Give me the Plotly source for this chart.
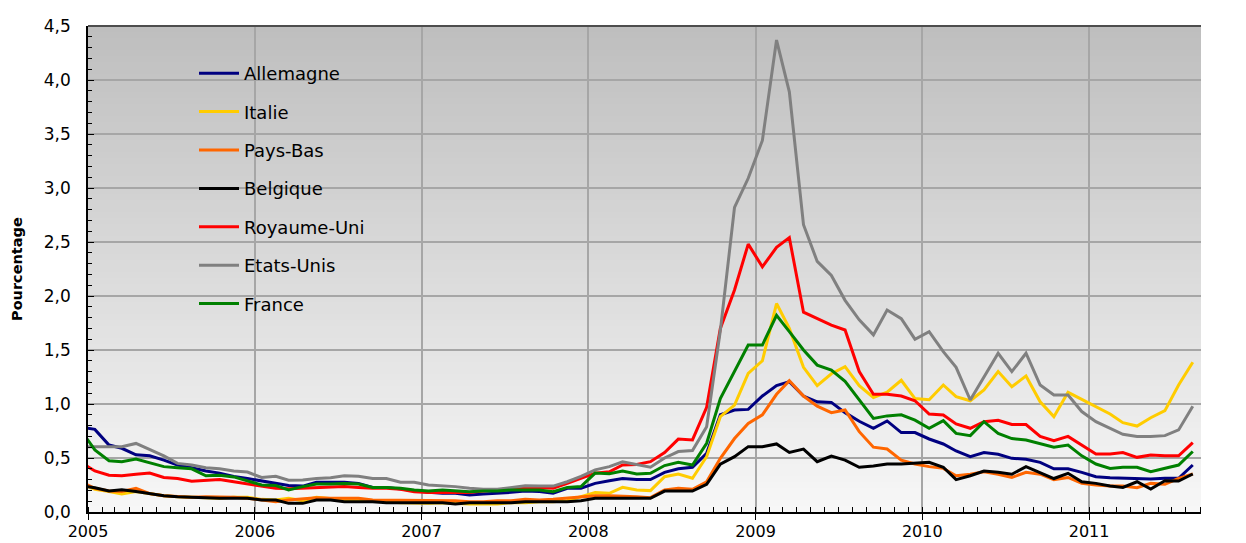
import plotly.graph_objects as go

# ---------------- data (monthly, Dec 2004 .. Aug 2011) ----------------
months = [f"{2004 + (11 + k) // 12}-{(11 + k) % 12 + 1:02d}-16" for k in range(81)]

allemagne = [0.785, 0.765, 0.62, 0.59, 0.53, 0.52, 0.48, 0.435, 0.41, 0.38, 0.36, 0.33, 0.31,
             0.29, 0.27, 0.245, 0.24, 0.275, 0.275, 0.275, 0.265, 0.228, 0.228, 0.21, 0.198,
             0.182, 0.173, 0.173, 0.157, 0.167, 0.173, 0.182, 0.194, 0.19, 0.173, 0.22, 0.22,
             0.265, 0.29, 0.31, 0.30, 0.30, 0.367, 0.40, 0.414, 0.543, 0.90, 0.944, 0.95,
             1.074, 1.17, 1.207, 1.074, 1.02, 1.015, 0.92, 0.84, 0.775, 0.843, 0.735, 0.735,
             0.676, 0.63, 0.565, 0.512, 0.55, 0.534, 0.497, 0.488, 0.46, 0.40, 0.40, 0.367,
             0.327, 0.318, 0.312, 0.306, 0.306, 0.312, 0.312, 0.435]
italie = [0.26, 0.21, 0.19, 0.167, 0.19, 0.173, 0.15, 0.142, 0.136, 0.133, 0.127, 0.136, 0.136,
          0.117, 0.111, 0.127, 0.105, 0.136, 0.121, 0.111, 0.111, 0.105, 0.096, 0.086, 0.08,
          0.08, 0.086, 0.08, 0.074, 0.074, 0.074, 0.086, 0.086, 0.096, 0.096, 0.105, 0.14,
          0.18, 0.173, 0.228, 0.204, 0.198, 0.327, 0.352, 0.312, 0.512, 0.883, 0.99, 1.284,
          1.40, 1.93, 1.70, 1.34, 1.17, 1.28, 1.346, 1.17, 1.06, 1.11, 1.22, 1.05,
          1.04, 1.176, 1.068, 1.03, 1.13, 1.30, 1.16, 1.26, 1.02, 0.883, 1.108, 1.043,
          0.975, 0.907, 0.827, 0.796, 0.873, 0.938, 1.176, 1.386]
pays_bas = [0.28, 0.22, 0.195, 0.19, 0.22, 0.17, 0.15, 0.142, 0.136, 0.142, 0.142, 0.136, 0.127,
            0.111, 0.095, 0.111, 0.12, 0.133, 0.127, 0.127, 0.127, 0.111, 0.111, 0.105, 0.105,
            0.105, 0.105, 0.105, 0.096, 0.096, 0.105, 0.105, 0.117, 0.111, 0.117, 0.127, 0.14,
            0.15, 0.15, 0.148, 0.142, 0.133, 0.204, 0.22, 0.21, 0.28, 0.497, 0.68, 0.82,
            0.90, 1.09, 1.216, 1.074, 0.98, 0.92, 0.945, 0.744, 0.60, 0.583, 0.48, 0.444,
            0.42, 0.404, 0.336, 0.35, 0.373, 0.35, 0.32, 0.367, 0.35, 0.30, 0.32, 0.265,
            0.25, 0.24, 0.24, 0.225, 0.265, 0.256, 0.312, 0.352]
belgique = [0.245, 0.225, 0.195, 0.205, 0.19, 0.173, 0.15, 0.142, 0.136, 0.133, 0.127, 0.127, 0.127,
            0.111, 0.111, 0.08, 0.08, 0.111, 0.111, 0.096, 0.096, 0.096, 0.086, 0.086, 0.086,
            0.086, 0.086, 0.074, 0.086, 0.086, 0.086, 0.086, 0.096, 0.096, 0.096, 0.096, 0.105,
            0.127, 0.127, 0.127, 0.127, 0.127, 0.194, 0.194, 0.194, 0.256, 0.444, 0.512, 0.605,
            0.605, 0.63, 0.552, 0.583, 0.466, 0.518, 0.48, 0.414, 0.426, 0.444, 0.444, 0.45,
            0.46, 0.414, 0.30, 0.336, 0.38, 0.367, 0.35, 0.42, 0.364, 0.31, 0.358, 0.28,
            0.265, 0.24, 0.228, 0.28, 0.213, 0.29, 0.287, 0.352]
royaume_uni = [0.46, 0.38, 0.34, 0.335, 0.35, 0.36, 0.32, 0.31, 0.285, 0.29, 0.30, 0.28, 0.26,
               0.235, 0.22, 0.215, 0.22, 0.23, 0.235, 0.235, 0.228, 0.22, 0.22, 0.21, 0.188,
               0.18, 0.18, 0.18, 0.18, 0.194, 0.204, 0.22, 0.228, 0.228, 0.22, 0.265, 0.31,
               0.36, 0.373, 0.435, 0.44, 0.466, 0.55, 0.675, 0.667, 0.97, 1.70, 2.056, 2.48,
               2.27, 2.45, 2.54, 1.85, 1.79, 1.73, 1.685, 1.30, 1.09, 1.09, 1.074, 1.03,
               0.907, 0.898, 0.815, 0.775, 0.836, 0.85, 0.81, 0.81, 0.70, 0.66, 0.70, 0.62,
               0.537, 0.537, 0.55, 0.506, 0.528, 0.52, 0.52, 0.642]
etats_unis = [0.605, 0.605, 0.60, 0.605, 0.635, 0.575, 0.52, 0.45, 0.435, 0.41, 0.40, 0.38, 0.37,
              0.32, 0.33, 0.295, 0.296, 0.31, 0.318, 0.336, 0.33, 0.31, 0.31, 0.275, 0.275,
              0.25, 0.244, 0.235, 0.22, 0.21, 0.21, 0.228, 0.244, 0.24, 0.24, 0.28, 0.33,
              0.39, 0.42, 0.465, 0.44, 0.415, 0.50, 0.56, 0.57, 0.79, 1.68, 2.82, 3.09,
              3.44, 4.37, 3.89, 2.66, 2.32, 2.19, 1.96, 1.78, 1.64, 1.87, 1.79, 1.60,
              1.67, 1.485, 1.34, 1.037, 1.25, 1.47, 1.30, 1.47, 1.176, 1.083, 1.083, 0.93,
              0.836, 0.775, 0.72, 0.70, 0.70, 0.707, 0.76, 0.98]
france = [0.76, 0.575, 0.475, 0.465, 0.49, 0.455, 0.42, 0.41, 0.40, 0.335, 0.34, 0.325, 0.29,
          0.25, 0.245, 0.205, 0.235, 0.26, 0.26, 0.265, 0.26, 0.228, 0.228, 0.22, 0.204,
          0.194, 0.204, 0.194, 0.188, 0.194, 0.194, 0.204, 0.204, 0.204, 0.188, 0.228, 0.235,
          0.36, 0.355, 0.38, 0.352, 0.358, 0.43, 0.46, 0.435, 0.636, 1.05, 1.30, 1.546,
          1.546, 1.82, 1.67, 1.50, 1.36, 1.315, 1.21, 1.04, 0.867, 0.89, 0.90, 0.85,
          0.775, 0.846, 0.728, 0.707, 0.836, 0.728, 0.68, 0.667, 0.636, 0.60, 0.62, 0.52,
          0.444, 0.404, 0.414, 0.414, 0.373, 0.404, 0.435, 0.56]

series_names = ["Allemagne", "Italie", "Pays-Bas", "Belgique", "Royaume-Uni", "Etats-Unis", "France"]
series_values = [allemagne, italie, pays_bas, belgique, royaume_uni, etats_unis, france]
series_colors = ["#000080", "#FFCC00", "#FF6600", "#000000", "#FF0000", "#808080", "#008000"]

y_title = "Pourcentage"
x_range = ["2005-01-01", "2011-09-03"]
y_range = [0, 4.5]

# ---------------- figure ----------------
FONT = "DejaVu Sans, Verdana, sans-serif"
fig = go.Figure()

TOP, BOT = 190, 247


def band_color(frac):  # frac 0 bottom -> 1 top
    g = round(BOT + (TOP - BOT) * frac)
    return f"rgb({g},{g},{g})"


# page body has an 8px default margin -> compensate
PW, PH = 1113, 486          # plot area size in px
shapes = []
NB = 81
for k in range(NB):
    y0, y1 = k / NB, (k + 1) / NB
    shapes.append(dict(type="rect", xref="paper", yref="paper", x0=0, x1=1, y0=y0, y1=y1 + 0.002,
                       fillcolor=band_color((k + 0.5) / NB), line=dict(width=0), layer="below"))

# legend box (hides gridlines), same gradient
lx0, lx1 = (130 - 88) / PW, (441 - 88) / PW
ly0, ly1 = (512 - 322) / PH, (512 - 53) / PH
for k in range(NB):
    y0, y1 = k / NB, (k + 1) / NB
    a, b = max(y0, ly0), min(y1 + 0.002, ly1)
    if a < b:
        shapes.append(dict(type="rect", xref="paper", yref="paper", x0=lx0, x1=lx1, y0=a, y1=b,
                           fillcolor=band_color((k + 0.5) / NB), line=dict(width=0), layer="between"))

shapes.append(dict(type="line", xref="paper", yref="paper", x0=0, x1=1, y0=1, y1=1,
                   line=dict(color="#4d4d4d", width=2), layer="above"))

for name, vals, col in zip(series_names, series_values, series_colors):
    fig.add_trace(go.Scatter(x=months, y=vals, name=name, mode="lines",
                             line=dict(color=col, width=3), legendgroup=name))

axis_common = dict(range=y_range, dtick=0.5, tickformat=".1f", showline=True, linecolor="#000000",
                   linewidth=1.5, ticks="inside", ticklen=6, tickcolor="#000000", tickwidth=1,
                   minor=dict(dtick=0.1, ticks="inside", ticklen=4, tickcolor="#000000", showgrid=False),
                   tickfont=dict(family=FONT, size=17, color="#000000"), zeroline=False,
                   ticklabelstandoff=12, automargin=False)

fig.update_layout(
    width=1238, height=535,
    margin=dict(l=80, r=45, t=18, b=31, autoexpand=False),
    paper_bgcolor="#ffffff", plot_bgcolor="rgba(0,0,0,0)",
    separators=", ",
    shapes=shapes,
    showlegend=True,
    legend=dict(x=(194 - 88) / PW, y=(512 - 55) / PH, xanchor="left", yanchor="top",
                bgcolor="rgba(0,0,0,0)", font=dict(family=FONT, size=18, color="#000000"),
                tracegroupgap=12, itemwidth=40),
    xaxis=dict(type="date", range=x_range, dtick="M12", tick0="2005-01-01", tickformat="%Y",
               showgrid=True, gridcolor="#a6a6a6", gridwidth=1.5,
               showline=True, linecolor="#000000", linewidth=1.5,
               ticks="outside", ticklen=6, tickcolor="#000000",
               minor=dict(dtick="M1", ticks="inside", ticklen=5, tickcolor="#000000", showgrid=False),
               tickfont=dict(family=FONT, size=16, color="#000000"), ticklabelstandoff=-2,
               automargin=False),
    yaxis=dict(showgrid=True, gridcolor="#a6a6a6", gridwidth=1.5, **axis_common),
    yaxis2=dict(overlaying="y", side="right", anchor="x", showgrid=False, **axis_common),
    annotations=[dict(text=f"<b>{y_title}</b>", xref="paper", yref="paper",
                      x=(17 - 88) / PW, y=0.5, textangle=-90, showarrow=False,
                      xanchor="center", yanchor="middle",
                      font=dict(family=FONT, size=14.5, color="#000000"))],
)

fig.write_html("out.html")
